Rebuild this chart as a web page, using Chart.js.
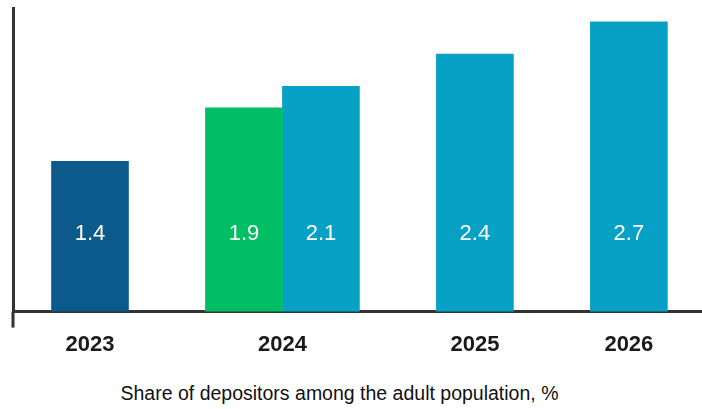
<!DOCTYPE html>
<html>
<head>
<meta charset="utf-8">
<script src="https://cdn.jsdelivr.net/npm/chart.js@4"></script>
<style>
  html, body { margin: 0; padding: 0; background: #fff; }
  #wrap { width: 702px; height: 378px; position: relative; }
  #caption {
    width: 679px;
    height: 31px;
    line-height: 31px;
    text-align: center;
    font-family: "Liberation Sans", Arial, sans-serif;
    font-size: 19.5px;
    color: #111111;
  }
</style>
</head>
<body>
<div id="wrap"><canvas id="depositorsChart"></canvas></div>
<div id="caption">Share of depositors among the adult population, %</div>
<script>
// Share of depositors among the adult population, %
const years = ['2023', '2024', '2025', '2026'];
const reported = [1.4, null, null, null];
const estimate = [null, 1.9, null, null];
const target = [null, 2.1, 2.4, 2.7];

const seriesList = [
    { name: 'Reported', values: reported, color: '#0b5a8b' },
    { name: 'Estimate', values: estimate, color: '#00be63' },
    { name: 'Target', values: target, color: '#06a1c5' }
];

// Bars sit side by side inside a year, with one empty slot between years
const points = seriesList.map(() => []);
const yearCenters = [];
let slot = 0;
years.forEach((year, i) => {
    const used = [];
    seriesList.forEach((s, k) => {
        if (s.values[i] !== null) {
            points[k].push({ x: slot, y: s.values[i] });
            used.push(slot);
            slot++;
        }
    });
    yearCenters.push((used[0] + used[used.length - 1]) / 2);
    slot++;
});
const lastSlot = slot - 2;

const axisColor = '#333333';

// Value labels at a common height inside each bar
const barLabels = {
    id: 'barLabels',
    afterDatasetsDraw(chart) {
        const ctx = chart.ctx;
        const yPix = chart.scales.y.getPixelForValue(0.72);
        ctx.save();
        ctx.fillStyle = '#ffffff';
        ctx.font = '22px "Liberation Sans", Arial, sans-serif';
        ctx.textAlign = 'center';
        ctx.textBaseline = 'middle';
        chart.data.datasets.forEach((ds, di) => {
            chart.getDatasetMeta(di).data.forEach((bar, j) => {
                ctx.fillText(ds.data[j].y.toFixed(1), bar.x, yPix);
            });
        });
        ctx.restore();
    }
};

// Left axis line runs a little below the baseline
const axisStub = {
    id: 'axisStub',
    afterDraw(chart) {
        const { ctx, chartArea } = chart;
        ctx.save();
        ctx.strokeStyle = axisColor;
        ctx.lineWidth = 3;
        ctx.beginPath();
        ctx.moveTo(chartArea.left, chartArea.bottom);
        ctx.lineTo(chartArea.left, chartArea.bottom + 16);
        ctx.stroke();
        ctx.restore();
    }
};

const ctx = document.getElementById('depositorsChart').getContext('2d');
new Chart(ctx, {
    type: 'bar',
    data: {
        datasets: seriesList.map((s, k) => ({
            label: s.name,
            data: points[k],
            backgroundColor: s.color,
            borderWidth: 0
        }))
    },
    options: {
        responsive: true,
        maintainAspectRatio: false,
        animation: false,
        grouped: false,
        barPercentage: 1,
        categoryPercentage: 1,
        layout: { padding: { left: 13, top: 8, right: 0, bottom: 0 } },
        plugins: {
            legend: { display: false },
            tooltip: { enabled: false }
        },
        scales: {
            x: {
                type: 'linear',
                offset: false,
                min: -1,
                max: lastSlot + 0.95,
                z: 1,
                afterBuildTicks(scale) {
                    scale.ticks = yearCenters.map(v => ({ value: v }));
                },
                grid: { display: false, drawTicks: false, tickLength: 0 },
                border: { display: true, color: axisColor, width: 3 },
                ticks: {
                    autoSkip: false,
                    maxRotation: 0,
                    padding: 20,
                    color: '#1a1a1a',
                    font: { family: '"Liberation Sans", Arial, sans-serif', size: 22, weight: 'bold' },
                    callback: (value, index) => years[index]
                }
            },
            y: {
                min: 0,
                max: 2.83,
                grid: { display: false, drawTicks: false, tickLength: 0 },
                border: { display: true, color: axisColor, width: 3 },
                ticks: { display: false }
            }
        }
    },
    plugins: [barLabels, axisStub]
});
</script>
</body>
</html>
